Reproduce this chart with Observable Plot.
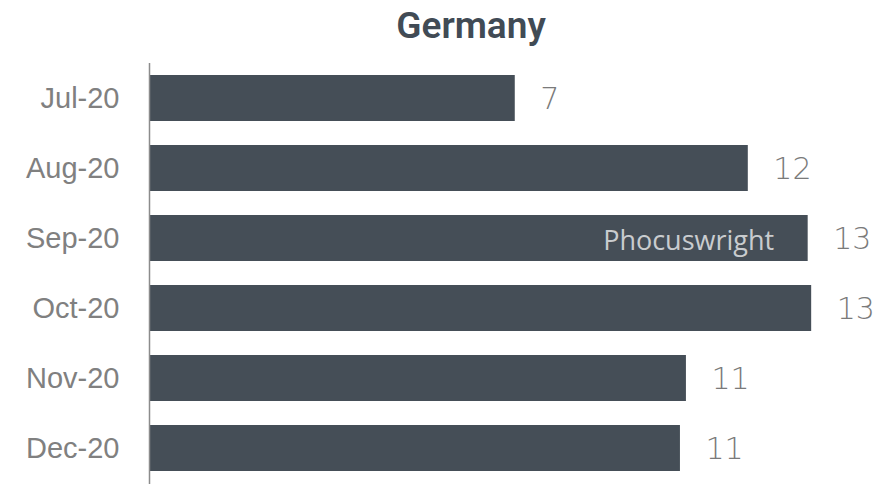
<!DOCTYPE html>
<html>
<head>
<meta charset="utf-8">
<script src="https://cdn.jsdelivr.net/npm/d3@7"></script>
<script src="https://cdn.jsdelivr.net/npm/@observablehq/plot@0.6"></script>
<style>
  html, body { margin: 0; padding: 0; background: #fff; }
  #wrap { width: 879px; height: 484px; position: relative; overflow: hidden; }
  #title { height: 63px; box-sizing: border-box; padding-top: 4px; padding-left: 63px; text-align: center;
    font-family: "Liberation Sans Narrow", "Roboto", sans-serif; font-weight: 600; font-size: 37px; color: #414b55; line-height: 44px; }
  svg { display: block; }
</style>
</head>
<body>
<div id="wrap">
  <div id="title">Germany</div>
  <div id="chart"></div>
</div>
<script>
const months = ["Jul-20", "Aug-20", "Sep-20", "Oct-20", "Nov-20", "Dec-20"];
const values = [7.33, 12.0, 13.2, 13.27, 10.76, 10.64];
const labels = ["7", "12", "13", "13", "11", "11"];
const watermark = "Phocuswright";
const watermarkMonth = "Sep-20";

const data = months.map((m, i) => ({ month: m, value: values[i], label: labels[i] }));

const chart = Plot.plot({
  width: 879,
  height: 421,
  marginTop: 0,
  marginBottom: 0,
  marginLeft: 149,
  marginRight: 31.4,
  x: { domain: [0, 14], axis: null },
  y: { domain: months, paddingInner: 0.336, paddingOuter: 0.16, label: null },
  style: { fontFamily: "Liberation Sans, Arial, sans-serif", background: "#fff" },
  marks: [
    Plot.barX(data, { x: "value", y: "month", fill: "#454e57" }),
    Plot.text(data.filter(d => d.month === watermarkMonth), {
      x: "value", y: "month", text: () => watermark, textAnchor: "end", dx: -34, dy: 3,
      fill: "#c9cccf", fontSize: 27, fontFamily: "Open Sans, sans-serif"
    }),
    Plot.text(data, {
      x: "value", y: "month", text: "label", textAnchor: "start", dx: 25, dy: 1,
      fill: "#7a7a7a", fontSize: 30, fontFamily: "DejaVu Sans, sans-serif", fontWeight: 300
    }),
    Plot.axisY({ tickSize: 0, tickPadding: 30, fontSize: 29, fill: "#808080", fontWeight: "normal", label: null, stroke: null }),
    Plot.ruleX([0], { stroke: "#8c8c8c", strokeWidth: 1.5 })
  ]
});
document.getElementById("chart").appendChild(chart);
</script>
</body>
</html>
